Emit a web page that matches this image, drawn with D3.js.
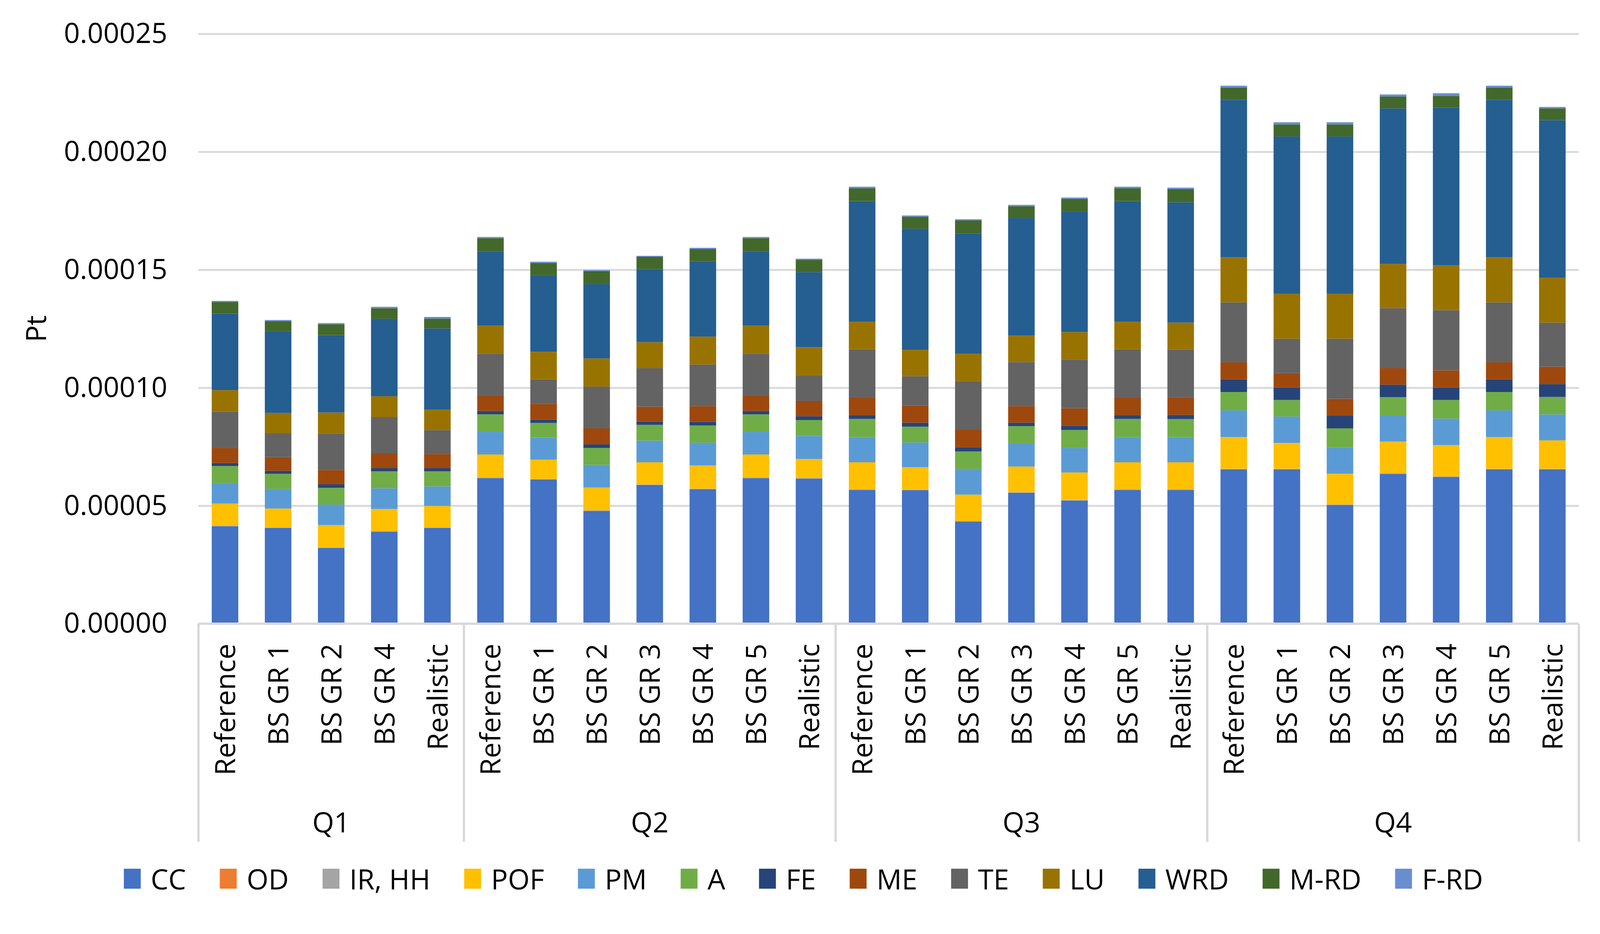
<!DOCTYPE html>
<html>
<head>
<meta charset="utf-8">
<script src="https://cdn.jsdelivr.net/npm/d3@7"></script>
<style>
  html, body { margin: 0; padding: 0; background: #fff; overflow: hidden; width: 100%; height: 100%; }
  svg { display: block; width: 100vw; height: 100vh; }
  text { font-family: "Open Sans", "Liberation Sans", sans-serif; fill: #000; }
</style>
</head>
<body>
<svg id="chart" viewBox="0 0 4168 2390" preserveAspectRatio="xMidYMin meet"></svg>
<script>
// ---------- DATA (values in units of 1e-6 Pt) ----------
const UNIT = 1e-6;
const categories = [
  "Reference", "BS GR 1", "BS GR 2", "BS GR 4", "Realistic",
  "Reference", "BS GR 1", "BS GR 2", "BS GR 3", "BS GR 4", "BS GR 5", "Realistic",
  "Reference", "BS GR 1", "BS GR 2", "BS GR 3", "BS GR 4", "BS GR 5", "Realistic",
  "Reference", "BS GR 1", "BS GR 2", "BS GR 3", "BS GR 4", "BS GR 5", "Realistic"
];
const groupNames = ["Q1", "Q2", "Q3", "Q4"];
const groupSizes = [5, 7, 7, 7];

const seriesNames = ["CC", "OD", "IR, HH", "POF", "PM", "A", "FE", "ME", "TE", "LU", "WRD", "M-RD", "F-RD"];
const seriesColors = ["#4472C4", "#ED7D31", "#A5A5A5", "#FFC000", "#5B9BD5", "#70AD47", "#264478", "#9E480E", "#636363", "#997300", "#255E91", "#43682B", "#698ED0"];

const CC   = [41.3, 40.6, 32.1, 39.0, 40.6,  61.7, 61.1, 47.8, 58.8, 57.0, 61.7, 61.5,  56.7, 56.6, 43.3, 55.5, 52.2, 56.7, 56.7,  65.4, 65.4, 50.3, 63.5, 62.2, 65.4, 65.4];
const OD   = [0.05, 0.05, 0.05, 0.05, 0.05,  0.05, 0.05, 0.05, 0.05, 0.05, 0.05, 0.05,  0.05, 0.05, 0.05, 0.05, 0.05, 0.05, 0.05,  0.05, 0.05, 0.05, 0.05, 0.05, 0.05, 0.05];
const IRHH = [0.2, 0.2, 0.2, 0.2, 0.2,  0.2, 0.2, 0.2, 0.2, 0.2, 0.2, 0.2,  0.2, 0.2, 0.2, 0.2, 0.2, 0.2, 0.2,  0.2, 0.2, 0.2, 0.2, 0.2, 0.2, 0.2];
const POF  = [9.35, 7.95, 9.45, 9.35, 9.05,  9.75, 8.15, 9.65, 9.35, 9.85, 9.75, 8.05,  11.45, 9.45, 11.15, 10.85, 11.65, 11.45, 11.45,  13.45, 10.95, 13.05, 13.45, 13.25, 13.45, 12.05];
const PM   = [8.7, 8.3, 8.7, 8.8, 8.3,  9.6, 9.4, 9.6, 9.2, 9.6, 9.6, 9.8,  10.7, 10.5, 10.9, 9.9, 10.4, 10.7, 10.7,  11.3, 11.2, 11.2, 10.9, 11.2, 11.3, 11.0];
const A    = [7.2, 6.4, 7.1, 7.2, 6.4,  7.4, 6.2, 7.2, 6.7, 7.3, 7.4, 6.7,  7.7, 6.7, 7.4, 7.2, 7.6, 7.7, 7.6,  7.8, 7.0, 8.0, 7.9, 7.9, 7.8, 7.4];
const FE   = [1.3, 1.3, 1.5, 1.3, 1.3,  1.5, 1.4, 1.5, 1.4, 1.5, 1.5, 1.6,  1.6, 1.7, 1.8, 1.5, 1.8, 1.6, 1.8,  5.4, 5.3, 5.3, 5.3, 5.3, 5.4, 5.4];
const ME   = [6.4, 5.8, 6.1, 6.3, 6.0,  6.5, 6.6, 6.8, 6.3, 6.7, 6.5, 6.5,  7.5, 7.3, 7.5, 7.0, 7.4, 7.5, 7.5,  7.2, 6.1, 7.2, 7.0, 7.3, 7.2, 7.4];
const TE   = [15.3, 10.2, 15.4, 15.4, 10.1,  17.7, 10.5, 17.7, 16.3, 17.7, 17.7, 10.9,  20.4, 12.4, 20.4, 18.7, 20.6, 20.4, 20.2,  25.4, 14.6, 25.5, 25.4, 25.5, 25.4, 18.7];
const LU   = [9.2, 8.5, 8.9, 8.8, 8.7,  11.9, 11.6, 11.9, 11.0, 11.8, 11.9, 11.9,  11.7, 11.2, 11.7, 11.2, 11.7, 11.7, 11.4,  19.1, 19.0, 19.0, 18.8, 19.0, 19.1, 19.0];
const WRD  = [32.4, 34.7, 32.8, 32.8, 34.4,  31.4, 32.5, 31.5, 31.0, 31.9, 31.4, 31.8,  51.1, 51.3, 51.0, 49.8, 51.1, 51.1, 51.0,  66.7, 66.7, 66.7, 65.9, 66.8, 66.7, 66.8];
const MRD  = [4.9, 4.2, 4.6, 4.5, 4.2,  5.7, 5.2, 5.5, 5.2, 5.2, 5.7, 5.2,  5.4, 5.1, 5.5, 5.0, 5.4, 5.4, 5.6,  5.2, 5.1, 5.1, 5.0, 5.0, 5.2, 5.0];
const FRD  = [0.5, 0.5, 0.5, 0.6, 0.7,  0.5, 0.5, 0.5, 0.4, 0.5, 0.5, 0.5,  0.7, 0.5, 0.5, 0.6, 0.5, 0.7, 0.6,  0.8, 0.9, 0.9, 0.9, 1.1, 0.8, 0.6];

const seriesValues = [CC, OD, IRHH, POF, PM, A, FE, ME, TE, LU, WRD, MRD, FRD];
const yTicks = [0, 0.00005, 0.0001, 0.00015, 0.0002, 0.00025];
const yLabel = "Pt";

// ---------- LAYOUT ----------
const W = 4168, H = 2390;
const plot = { left: 517, right: 4113, top: 88, bottom: 1624 };
const FONT = 73;
const GRID = "#d9d9d9";

const svg = d3.select("#chart");

const rows = categories.map((c, i) => {
  const r = { idx: i, cat: c };
  seriesNames.forEach((s, k) => { r[s] = seriesValues[k][i] * UNIT; });
  return r;
});

const x = d3.scaleBand()
  .domain(rows.map(r => r.idx))
  .range([plot.left, plot.right])
  .paddingInner(0.5)
  .paddingOuter(0.25);

const y = d3.scaleLinear()
  .domain([0, 0.00025])
  .range([plot.bottom, plot.top]);

// gridlines + y tick labels
const yAxis = d3.axisLeft(y)
  .tickValues(yTicks)
  .tickFormat(d3.format(".5f"))
  .tickSize(-(plot.right - plot.left))
  .tickPadding(81);

const gy = svg.append("g")
  .attr("transform", `translate(${plot.left},0)`)
  .call(yAxis);
gy.select(".domain").remove();
gy.selectAll(".tick line").attr("stroke", GRID).attr("stroke-width", 5);
gy.selectAll(".tick text")
  .style("font-size", FONT + "px")
  .style("font-family", "'Open Sans', 'Liberation Sans', sans-serif")
  .attr("fill", "#000");

// y axis title
svg.append("text")
  .attr("transform", `translate(92, ${(plot.top + plot.bottom) / 2}) rotate(-90)`)
  .attr("text-anchor", "middle")
  .attr("dominant-baseline", "central")
  .style("font-size", FONT + "px")
  .text(yLabel);

// stacked bars
const stack = d3.stack().keys(seriesNames);
const stacked = stack(rows);

svg.append("g")
  .selectAll("g")
  .data(stacked)
  .join("g")
  .attr("fill", (d, k) => seriesColors[k])
  .selectAll("rect")
  .data(d => d)
  .join("rect")
  .attr("x", d => x(d.data.idx))
  .attr("width", x.bandwidth())
  .attr("y", d => y(d[1]))
  .attr("height", d => Math.max(0, y(d[0]) - y(d[1])));

// baseline
svg.append("line")
  .attr("x1", plot.left).attr("x2", plot.right)
  .attr("y1", plot.bottom).attr("y2", plot.bottom)
  .attr("stroke", GRID).attr("stroke-width", 6);

// category labels
const xAxis = d3.axisBottom(x)
  .tickSize(0)
  .tickFormat(i => categories[i]);
const gx = svg.append("g")
  .attr("transform", `translate(0,${plot.bottom})`)
  .call(xAxis);
gx.select(".domain").remove();
gx.selectAll(".tick text")
  .attr("transform", "rotate(-90)")
  .attr("x", -52)
  .attr("y", 0)
  .attr("dy", "0.36em")
  .style("text-anchor", "end")
  .style("font-size", FONT + "px")
  .style("font-family", "'Open Sans', 'Liberation Sans', sans-serif")
  .attr("fill", "#000");

// group separators + group labels
const step = x.step();
let start = 0;
const groups = groupNames.map((g, gi) => {
  const o = { name: g, start: start, end: start + groupSizes[gi] };
  start += groupSizes[gi];
  return o;
});
const boundaries = [0].concat(groups.map(g => g.end));
const sepBottom = 2192;
svg.append("g")
  .selectAll("line")
  .data(boundaries)
  .join("line")
  .attr("x1", b => plot.left + b * step)
  .attr("x2", b => plot.left + b * step)
  .attr("y1", plot.bottom)
  .attr("y2", sepBottom)
  .attr("stroke", GRID)
  .attr("stroke-width", 6);

svg.append("g")
  .selectAll("text")
  .data(groups)
  .join("text")
  .attr("x", g => plot.left + (g.start + g.end) / 2 * step)
  .attr("y", 2139)
  .attr("text-anchor", "middle")
  .attr("dominant-baseline", "central")
  .style("font-size", FONT + "px")
  .text(g => g.name);

// legend
const legend = svg.append("g");
const sw = 44, swGap = 26, itemGap = 88;
const items = legend.selectAll("g")
  .data(seriesNames)
  .join("g");
items.append("rect")
  .attr("width", sw).attr("height", sw + 8)
  .attr("y", -(sw + 8) / 2)
  .attr("fill", (d, k) => seriesColors[k]);
items.append("text")
  .attr("x", sw + swGap)
  .attr("dominant-baseline", "central")
  .style("font-size", FONT + "px")
  .text(d => d);
let lx = 0;
const offsets = [];
items.each(function () {
  const tw = d3.select(this).select("text").node().getComputedTextLength();
  offsets.push(lx);
  lx += sw + swGap + tw + itemGap;
});
const totalW = lx - itemGap;
const lx0 = 2093 - totalW / 2;
items.attr("transform", (d, k) => `translate(${lx0 + offsets[k]}, 2288)`);
</script>
</body>
</html>
